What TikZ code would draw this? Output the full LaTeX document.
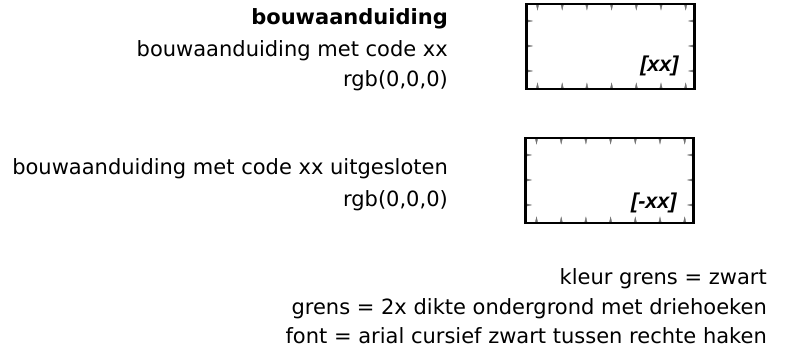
\documentclass[tikz,border=0pt]{standalone}
\usepackage{fontspec}
\setmainfont{DejaVu Sans}
\newfontfamily\arialfont{Liberation Sans}
\usepackage{tikz}
\usetikzlibrary{calc}
\newcommand{\bouwvlak}[1]{ node[rectangle, draw, line width = 2.4pt, minimum height = 85pt, minimum width = 168pt, name={#1}, driehoeken] {}}
\tikzset{tandje/.style={fill=black!55, draw=black!55, line width=.3pt}}
\tikzset{driehoeken/.style={path picture={
  \foreach \i in {0,...,6} {
    \filldraw[tandje] ([xshift={11pt+24.7pt*\i-1.4pt}]path picture bounding box.north west) -- ++(1.4pt,-6pt) -- ++(1.4pt,6pt) -- cycle;
    \filldraw[tandje] ([xshift={11pt+24.7pt*\i-1.4pt}]path picture bounding box.south west) -- ++(1.4pt,6pt) -- ++(1.4pt,-6pt) -- cycle;
  }
  \foreach \j in {0,...,2} {
    \filldraw[tandje] ([yshift={-17pt-25pt*\j+1.4pt}]path picture bounding box.north west) -- ++(6pt,-1.4pt) -- ++(-6pt,-1.4pt) -- cycle;
    \filldraw[tandje] ([yshift={-17pt-25pt*\j+1.4pt}]path picture bounding box.north east) -- ++(-6pt,-1.4pt) -- ++(6pt,-1.4pt) -- cycle;
  }
}}}
\tikzset{tekst/.style={anchor=base east, inner sep=0pt, font=\fontsize{21}{25}\selectfont}}
\tikzset{code/.style={anchor=base east, inner sep=0pt, font=\arialfont\bfseries\itshape\fontsize{21.5}{25}\selectfont}}

\begin{document}
\begin{tikzpicture}[x=1pt, y=-1pt]
  \useasboundingbox (0,0) rectangle (792,352);

  \draw [] (610.5, 46.5) \bouwvlak{vak1};
  \draw [] (609.5, 180.5) \bouwvlak{vak2};

  \node [code] (code1) at ([xshift=-17pt, yshift=19pt]vak1.south east) {[xx]};
  \node [code] (code2) at ([xshift=-18pt, yshift=16pt]vak2.south east) {[-xx]};

  \node [tekst] (titel) at (448, 25) {\textbf{bouwaanduiding}};
  \node [tekst] (met) at (448, 57) {bouwaanduiding met code xx};
  \node [tekst] (rgba) at (448, 87) {rgb(0,0,0)};

  \node [tekst] (zonder) at (448, 175) {bouwaanduiding met code xx uitgesloten};
  \node [tekst] (rgbb) at (448, 207) {rgb(0,0,0)};

  \node [tekst] (kleur) at (767, 285) {kleur grens = zwart};
  \node [tekst] (grens) at (767, 315) {grens = 2x dikte ondergrond met driehoeken};
  \node [tekst] (font) at (767, 344) {font = arial cursief zwart tussen rechte haken};

\end{tikzpicture}
\end{document}
